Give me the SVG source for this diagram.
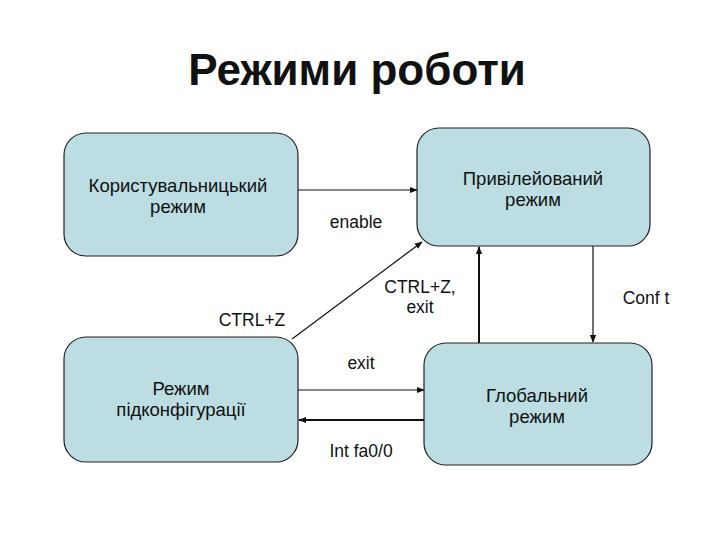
<svg xmlns="http://www.w3.org/2000/svg" width="720" height="540" viewBox="0 0 720 540">
<defs>
<style>
.box{fill:#bcdde1;stroke:#222;stroke-width:1.2}
.t{font-family:"Liberation Sans",Arial,sans-serif;font-size:18.5px;fill:#111;text-anchor:middle}
.lbl{font-family:"Liberation Sans",Arial,sans-serif;font-size:17.5px;fill:#111;text-anchor:middle}
.c{stroke:#111;stroke-width:1.2;fill:none;marker-end:url(#ah)}
.c2{stroke:#111;stroke-width:2;fill:none;marker-end:url(#ah)}
</style>
<marker id="ah" viewBox="0 0 10 10" refX="9" refY="5" markerWidth="8" markerHeight="8" markerUnits="userSpaceOnUse" orient="auto">
<path d="M0,1 L10,5 L0,9 Z" fill="#111"/>
</marker>
</defs>
<rect width="720" height="540" fill="#fff"/>
<text x="357" y="85" font-family="Liberation Sans,Arial,sans-serif" font-size="44" font-weight="bold" text-anchor="middle" fill="#111">Режими роботи</text>
<g id="n1"><rect class="box" x="64" y="133" width="234" height="123" rx="22"/>
<text class="t" x="178" y="192">Користувальницький</text><text class="t" x="178" y="213">режим</text></g>
<g id="n2"><rect class="box" x="417" y="128" width="233" height="118" rx="22"/>
<text class="t" x="533" y="185">Привілейований</text><text class="t" x="533" y="206">режим</text></g>
<g id="n3"><rect class="box" x="64" y="337" width="234" height="125" rx="22"/>
<text class="t" x="181" y="395">Режим</text><text class="t" x="181" y="416">підконфігурації</text></g>
<g id="n4"><rect class="box" x="424" y="343" width="228" height="122" rx="22"/>
<text class="t" x="537" y="402">Глобальний</text><text class="t" x="537" y="423">режим</text></g>
<g id="connectors">
<line class="c" x1="298" y1="190" x2="417" y2="190"/>
<line class="c" x1="292" y1="339" x2="422" y2="242"/>
<line class="c2" x1="479" y1="343" x2="479" y2="247"/>
<line class="c" x1="593" y1="246" x2="593" y2="342"/>
<line class="c" x1="298" y1="390" x2="424" y2="390"/>
<line class="c2" x1="424" y1="420" x2="299" y2="420"/>
<text class="lbl" x="356" y="228">enable</text>
<text class="lbl" x="420" y="293">CTRL+Z,</text>
<text class="lbl" x="420" y="313">exit</text>
<text class="lbl" x="252" y="326">CTRL+Z</text>
<text class="lbl" x="646" y="304">Conf t</text>
<text class="lbl" x="361" y="369">exit</text>
<text class="lbl" x="361" y="457">Int fa0/0</text>
</g>
</svg>
